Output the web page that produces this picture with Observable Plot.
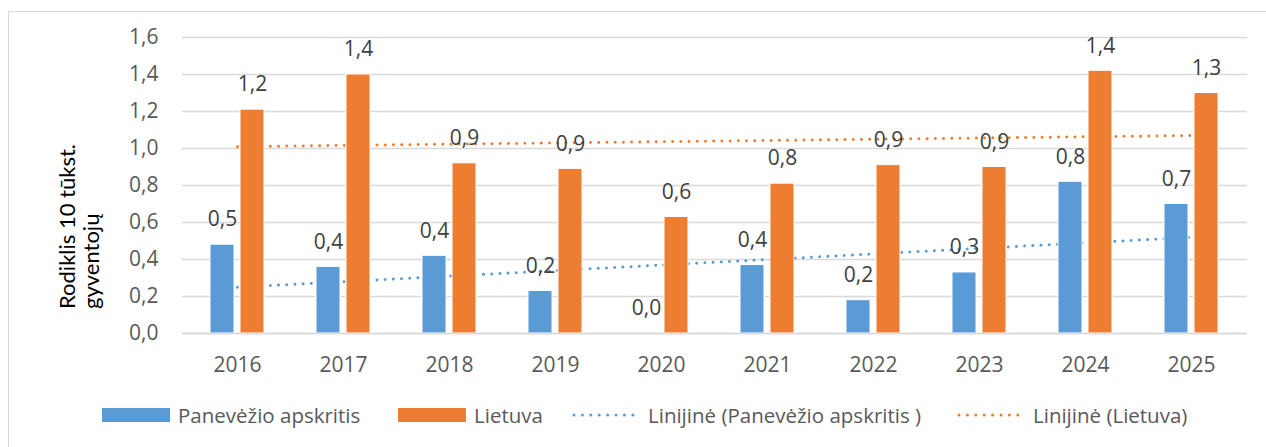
<!DOCTYPE html>
<html>
<head>
<meta charset="utf-8">
<script src="https://cdn.jsdelivr.net/npm/d3@7"></script>
<script src="https://cdn.jsdelivr.net/npm/@observablehq/plot@0.6"></script>
<style>
  html, body { margin: 0; padding: 0; background: #fff; }
  body { width: 1266px; height: 447px; position: relative; overflow: hidden; font-family: "Open Sans", sans-serif; }
  #frame { position: absolute; left: 8px; top: 11px; width: 1300px; height: 500px; border-top: 1.5px solid #d9d9d9; border-left: 1.5px solid #d9d9d9; }
  #chart { position: absolute; left: 0; top: 0; }
  #ytitle { position: absolute; left: 55px; top: 309px; transform-origin: left top; transform: rotate(-90deg);
            font-family: Lato, "Open Sans", sans-serif; font-size: 22px; line-height: 24px; color: #000; white-space: nowrap; }
  .leg { position: absolute; top: 402px; height: 26px; display: flex; align-items: center; font-size: 20.5px; color: #595959; white-space: nowrap; }
  .sw { width: 68px; height: 14px; margin-right: 8px; }
</style>
</head>
<body>
<div id="frame"></div>
<div id="chart"></div>
<div id="ytitle">Rodiklis 10 tūkst.<br>gyventojų</div>
<div id="legend"></div>
<script>
const years = ["2016", "2017", "2018", "2019", "2020", "2021", "2022", "2023", "2024", "2025"];
const panevezys = [0.48, 0.36, 0.42, 0.23, 0.0, 0.37, 0.18, 0.33, 0.82, 0.70];
const lietuva = [1.21, 1.40, 0.92, 0.89, 0.63, 0.81, 0.91, 0.90, 1.42, 1.30];
const trendYears = ["2016", "2025"];
const panTrend = [0.25, 0.52];
const ltTrend = [1.01, 1.07];
const yTicks = [0, 0.2, 0.4, 0.6, 0.8, 1.0, 1.2, 1.4, 1.6];
const seriesNames = ["Panevėžio apskritis", "Lietuva", "Linijinė (Panevėžio apskritis )", "Linijinė (Lietuva)"];

const blue = "#5B9BD5", orange = "#ED7D31";
const fmt = v => v.toFixed(1).replace(".", ",");

const rows = years.map((year, i) => ({year, pan: panevezys[i], lt: lietuva[i]}));
const panT = trendYears.map((year, i) => ({year, v: panTrend[i]}));
const ltT = trendYears.map((year, i) => ({year, v: ltTrend[i]}));

const font = "'Open Sans', sans-serif";

const chart = Plot.plot({
  width: 1266,
  height: 380,
  marginLeft: 182,
  marginRight: 19,
  marginTop: 37,
  marginBottom: 47,
  style: {fontFamily: font, background: "transparent"},
  x: {type: "band", domain: years, paddingInner: 0.49, paddingOuter: 0.245},
  y: {domain: [0, 1.6]},
  marks: [
    Plot.gridY(yTicks, {stroke: "#d9d9d9", strokeOpacity: 1, strokeWidth: 1.5}),
    Plot.axisY(yTicks, {tickSize: 0, tickPadding: 24, tickFormat: fmt, fontSize: 21, fill: "#595959", label: null}),
    Plot.axisX({tickSize: 0, tickPadding: 24, fontSize: 21, fill: "#595959", label: null}),
    Plot.line(panT, {x: "year", y: "v", stroke: blue, strokeWidth: 3, strokeDasharray: "0.01 8.2", strokeLinecap: "round"}),
    Plot.line(ltT, {x: "year", y: "v", stroke: orange, strokeWidth: 3, strokeDasharray: "0.01 8.2", strokeLinecap: "round"}),
    Plot.barY(rows, {x: "year", y: "pan", fill: blue, insetRight: 30, stroke: "white", strokeWidth: 1}),
    Plot.barY(rows, {x: "year", y: "lt", fill: orange, insetLeft: 30, stroke: "white", strokeWidth: 1}),
    Plot.text(rows, {x: "year", y: "pan", text: d => fmt(d.pan), dx: -15, dy: -25, fontSize: 21, fill: "#404040", lineAnchor: "middle"}),
    Plot.text(rows, {x: "year", y: "lt", text: d => fmt(d.lt), dx: 15, dy: -25, fontSize: 21, fill: "#404040", lineAnchor: "middle"}),
    Plot.ruleY([0], {stroke: "#d9d9d9", strokeWidth: 1.5})
  ]
});
document.getElementById("chart").appendChild(chart);

// legend
const legend = document.getElementById("legend");
const lefts = [102, 398, 572, 957];
const kinds = ["bar", "bar", "line", "line"];
const colors = [blue, orange, blue, orange];
seriesNames.forEach((name, i) => {
  const item = document.createElement("div");
  item.className = "leg";
  item.style.left = lefts[i] + "px";
  if (kinds[i] === "bar") {
    const sw = document.createElement("div");
    sw.className = "sw";
    sw.style.background = colors[i];
    item.appendChild(sw);
  } else {
    const ns = "http://www.w3.org/2000/svg";
    const svg = document.createElementNS(ns, "svg");
    svg.setAttribute("width", 70);
    svg.setAttribute("height", 14);
    svg.style.marginRight = "6px";
    const ln = document.createElementNS(ns, "line");
    ln.setAttribute("x1", 2); ln.setAttribute("x2", 69);
    ln.setAttribute("y1", 7); ln.setAttribute("y2", 7);
    ln.setAttribute("stroke", colors[i]);
    ln.setAttribute("stroke-width", 3);
    ln.setAttribute("stroke-dasharray", "0.01 8.4");
    ln.setAttribute("stroke-linecap", "round");
    svg.appendChild(ln);
    item.appendChild(svg);
  }
  const t = document.createElement("span");
  t.textContent = name;
  item.appendChild(t);
  legend.appendChild(item);
});
</script>
</body>
</html>
